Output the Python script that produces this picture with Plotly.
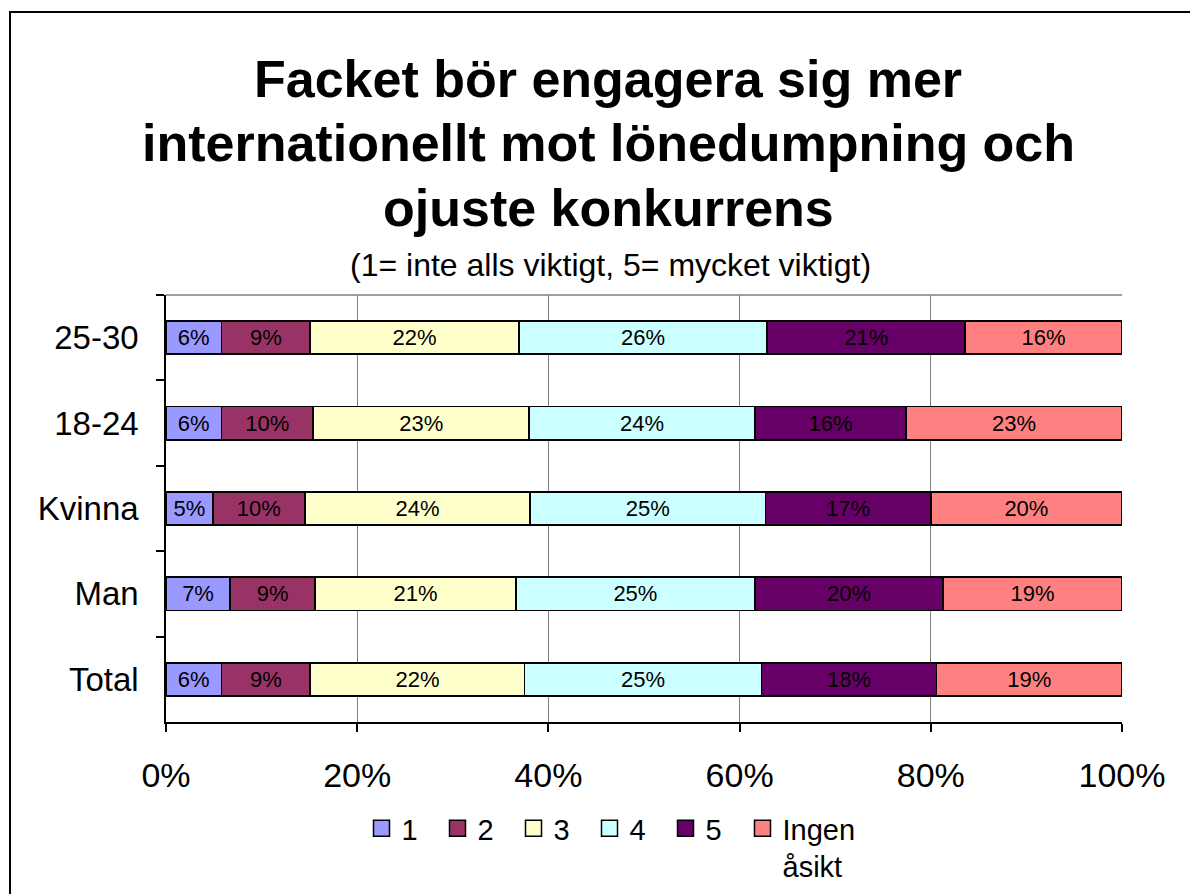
import plotly.graph_objects as go

# ---- data ----
categories = ["25-30", "18-24", "Kvinna", "Man", "Total"]
series_names = ["1", "2", "3", "4", "5", "Ingen<br>åsikt"]
s1 = [5.8, 5.8, 4.9, 6.7, 5.8]
s2 = [9.3, 9.6, 9.6, 8.9, 9.3]
s3 = [21.8, 22.6, 23.6, 21.0, 22.4]
s4 = [26.0, 23.6, 24.6, 25.0, 24.8]
s5 = [20.7, 15.8, 17.3, 19.7, 18.3]
s_ingen = [16.4, 22.6, 20.0, 18.7, 19.4]
series_values = [s1, s2, s3, s4, s5, s_ingen]
colors = ["#9999FF", "#993366", "#FFFFCC", "#CCFFFF", "#660066", "#FF8080"]
x_tickvals = [0, 20, 40, 60, 80, 100]
x_ticktext = ["0%", "20%", "40%", "60%", "80%", "100%"]
title_lines = ["Facket bör engagera sig mer",
               "internationellt mot lönedumpning och",
               "ojuste konkurrens"]
subtitle = "(1= inte alls viktigt, 5= mycket viktigt)"

FONT = "Liberation Sans, Arial, sans-serif"

OFF = 8  # page body margin
W, H = 1198 - OFF, 894 - OFF
# plot area in reference-picture pixels
L, R, T, B = 166, 1122, 295, 722

def px_x(px):
    return (px - L) / (R - L)

def px_y(py):
    return (B - py) / (B - T)

fig = go.Figure()
for name, vals, col in zip(series_names, series_values, colors):
    fig.add_trace(go.Bar(
        y=categories, x=vals, orientation="h", name=name,
        marker=dict(color=col, line=dict(color="black", width=1.8)),
        text=[f"{v:.0f}%" for v in vals],
        textposition="inside", insidetextanchor="middle",
        textfont=dict(family=FONT, size=22, color="black"),
        constraintext="none", textangle=0,
        showlegend=False, hoverinfo="skip",
    ))
# legend entries (last one in a second legend so its wider text is not clipped)
for i, (name, col) in enumerate(zip(series_names, colors)):
    fig.add_trace(go.Scatter(
        x=[None], y=[None], mode="markers", name=name,
        marker=dict(symbol="square", size=16, color=col,
                    line=dict(color="black", width=1.5)),
        showlegend=True,
        legend="legend" if i < len(series_names) - 1 else "legend2",
    ))

legend_common = dict(orientation="h", xanchor="left", yanchor="top",
                     traceorder="normal",
                     font=dict(size=29, family=FONT, color="black"),
                     valign="top", itemsizing="trace",
                     bgcolor="rgba(0,0,0,0)", tracegroupgap=0)

fig.update_layout(
    width=W, height=H,
    barmode="stack", bargap=0.61,
    paper_bgcolor="white", plot_bgcolor="white",
    margin=dict(l=L - OFF, r=1198 - R, t=T - OFF, b=894 - B, pad=0,
                autoexpand=False),
    font=dict(family=FONT, color="black"),
    xaxis=dict(range=[0, 100], tickvals=x_tickvals, ticktext=x_ticktext,
               showgrid=True, gridcolor="#808080", gridwidth=1,
               showline=True, linecolor="black", linewidth=1.5,
               ticks="outside", ticklen=8, tickcolor="black", tickwidth=1.5,
               tickfont=dict(size=34, family=FONT, color="black"),
               ticklabelstandoff=14, zeroline=False, fixedrange=True),
    yaxis=dict(autorange="reversed", type="category",
               showline=True, linecolor="black", linewidth=1.5,
               ticks="outside", ticklen=8, tickcolor="black", tickwidth=1.5,
               tickson="boundaries", showgrid=False,
               tickfont=dict(size=33, family=FONT, color="black"),
               ticklabelstandoff=19, fixedrange=True),
    legend=dict(x=px_x(361.5), y=px_y(803), entrywidth=31,
                entrywidthmode="pixels", **legend_common),
    legend2=dict(x=px_x(742.5), y=px_y(803), **legend_common),
    shapes=[
        dict(type="line", xref="paper", yref="paper", x0=0, x1=1, y0=1, y1=1,
             line=dict(color="#808080", width=1.5)),
        dict(type="rect", xref="paper", yref="paper",
             x0=px_x(10), x1=px_x(1195), y0=px_y(910), y1=px_y(12),
             line=dict(color="black", width=2)),
    ],
)

annotations = []
for line, py in zip(title_lines, [79, 143, 208]):
    annotations.append(dict(text=f"<b>{line}</b>", xref="paper", yref="paper",
                            x=px_x(608), y=px_y(py), xanchor="center",
                            yanchor="middle", showarrow=False,
                            font=dict(size=52, family=FONT, color="black")))
annotations.append(dict(text=subtitle, xref="paper", yref="paper",
                        x=px_x(610), y=px_y(265), xanchor="center",
                        yanchor="middle", showarrow=False,
                        font=dict(size=32, family=FONT, color="black")))
fig.update_layout(annotations=annotations)

fig.write_html("out.html")
